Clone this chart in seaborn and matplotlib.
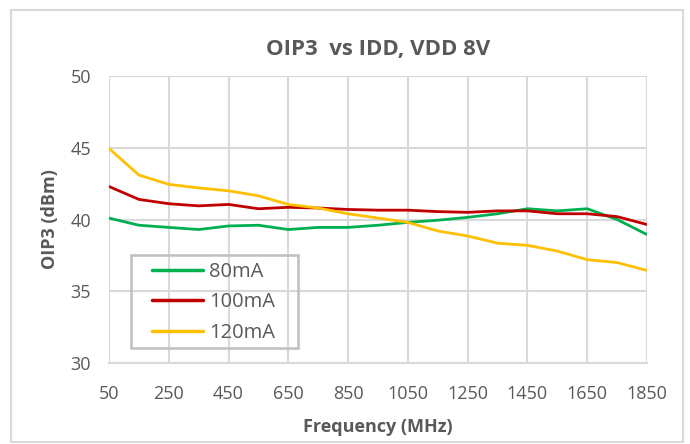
import pandas as pd
import matplotlib.pyplot as plt
import seaborn as sns
from matplotlib.patches import Rectangle

# Данные
freq = [50, 150, 250, 350, 450, 550, 650, 750, 850, 950, 1050, 1150, 1250, 1350, 1450, 1550, 1650, 1750, 1850]
oip3_80 = [40.1, 39.6, 39.45, 39.3, 39.55, 39.6, 39.3, 39.45, 39.45, 39.6, 39.8, 39.95, 40.15, 40.4, 40.75, 40.6, 40.75, 40.0, 38.95]
oip3_100 = [42.3, 41.4, 41.1, 40.95, 41.05, 40.75, 40.85, 40.8, 40.7, 40.65, 40.65, 40.55, 40.5, 40.6, 40.6, 40.4, 40.4, 40.2, 39.65]
oip3_120 = [44.95, 43.1, 42.45, 42.2, 42.0, 41.65, 41.05, 40.8, 40.4, 40.1, 39.8, 39.2, 38.85, 38.35, 38.2, 37.8, 37.2, 37.0, 36.45]
labels = ["80mA", "100mA", "120mA"]
colors = ["#00b050", "#c00000", "#ffc000"]
x_ticks = list(range(50, 1851, 200))

df = pd.DataFrame({"Frequency": freq, "80mA": oip3_80, "100mA": oip3_100, "120mA": oip3_120})
long_df = df.melt(id_vars="Frequency", var_name="IDD", value_name="OIP3")

sns.set_style("white")
plt.rcParams["font.family"] = ["Open Sans", "DejaVu Sans"]
text_col = "#595959"
W, H = 690, 444

fig = plt.figure(figsize=(6.9, 4.44), dpi=100)
ax = fig.add_axes([109 / W, 1 - 363 / H, 538 / W, 287 / H])

sns.lineplot(data=long_df, x="Frequency", y="OIP3", hue="IDD", hue_order=labels,
             palette=colors, linewidth=2, ax=ax)

ax.set_xlim(50, 1850)
ax.set_ylim(30, 50)
ax.set_xticks(x_ticks)
ax.set_yticks([30, 35, 40, 45, 50])
ax.grid(True, color="#d9d9d9", linewidth=1.5)
ax.set_axisbelow(True)
for side in ["top", "right", "left"]:
    ax.spines[side].set_visible(False)
ax.spines["bottom"].set_color("#d9d9d9")
ax.spines["bottom"].set_linewidth(1.5)
ax.tick_params(axis="both", length=0, labelsize=13, labelcolor=text_col)
ax.tick_params(axis="x", pad=15.5)
ax.tick_params(axis="y", pad=13)

ax.set_xlabel("Frequency (MHz)", fontsize=13, fontweight="bold", color=text_col, labelpad=11)
ax.set_ylabel("OIP3 (dBm)", fontsize=13, fontweight="bold", color=text_col, labelpad=8)
ax.set_title("OIP3  vs IDD, VDD 8V", fontsize=16, fontweight="bold", color=text_col, pad=15)

# легенда без рамки, рамка рисуется отдельно
leg = ax.legend(loc="upper left", bbox_to_anchor=(152 / W, 1 - 262 / H), bbox_transform=fig.transFigure,
                fontsize=14.5, frameon=False, handlelength=2.55, handletextpad=0.3,
                labelspacing=0.52, borderpad=0, borderaxespad=0)
for t in leg.get_texts():
    t.set_color(text_col)
for line in leg.get_lines():
    line.set_linewidth(2.5)
fig.patches.append(Rectangle((131 / W, 1 - 348 / H), 167 / W, 93 / H, transform=fig.transFigure,
                             fill=False, edgecolor="#bfbfbf", linewidth=1.8, zorder=5))

# рамка вокруг всей диаграммы
fig.patches.append(Rectangle((11 / W, 2 / H), 672 / W, 1 - 10 / H - 2 / H, transform=fig.transFigure,
                             fill=False, edgecolor="#d9d9d9", linewidth=1.5))

plt.savefig("out.png", dpi=100)
